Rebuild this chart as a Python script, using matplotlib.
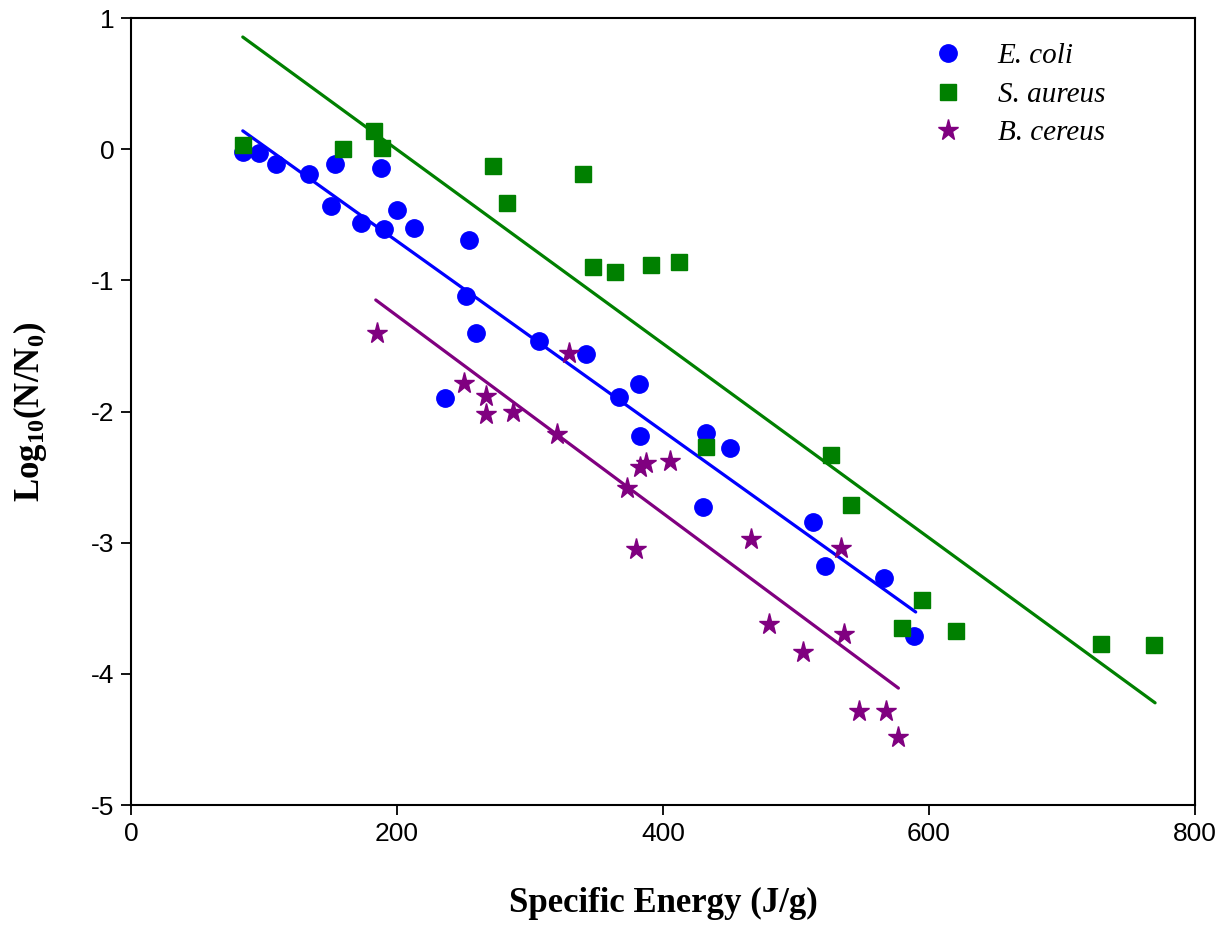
import numpy as np
import matplotlib
matplotlib.use("Agg")
import matplotlib.pyplot as plt

plt.rcParams["axes.unicode_minus"] = False
plt.rcParams["mathtext.fontset"] = "custom"
plt.rcParams["mathtext.rm"] = "Liberation Serif"
plt.rcParams["mathtext.bf"] = "Liberation Serif:bold"

# E. coli
ecoli_x = [84, 96, 109, 134, 153, 150, 173, 190, 188, 200, 213, 254, 252, 259,
           236, 307, 342, 382, 367, 383, 432, 450, 430, 513, 522, 566, 589]
ecoli_y = [-0.02, -0.03, -0.11, -0.19, -0.11, -0.43, -0.56, -0.61, -0.14, -0.46,
           -0.60, -0.69, -1.12, -1.40, -1.90, -1.46, -1.56, -1.79, -1.89, -2.19,
           -2.16, -2.28, -2.73, -2.84, -3.18, -3.27, -3.71]

# S. aureus
saur_x = [84, 159, 183, 189, 272, 283, 340, 347, 364, 391, 412, 432, 526, 541,
          595, 580, 620, 729, 769]
saur_y = [0.03, 0.00, 0.14, 0.01, -0.13, -0.41, -0.19, -0.90, -0.94, -0.88,
          -0.86, -2.27, -2.33, -2.71, -3.44, -3.65, -3.67, -3.77, -3.78]

# B. cereus
bcer_x = [185, 250, 267, 267, 287, 320, 329, 383, 387, 405, 373, 380, 466, 534,
          480, 505, 536, 547, 568, 577]
bcer_y = [-1.40, -1.78, -1.88, -2.02, -2.00, -2.17, -1.55, -2.42, -2.39, -2.38,
          -2.58, -3.05, -2.97, -3.04, -3.62, -3.83, -3.70, -4.28, -4.28, -4.48]

# regression lines: (x start, x end, slope, intercept)
fit_ecoli = (84, 590, -0.00725, 0.749)
fit_saur = (84, 770, -0.0074, 1.477)
fit_bcer = (184, 577, -0.00753, 0.236)

BLUE = "#0000FF"; GREEN = "#008000"; PURPLE = "#800080"

fig = plt.figure(figsize=(12.26, 9.30), dpi=100)
ax = fig.add_axes([0.1069, 0.1344, 0.8678, 0.8462])

ax.plot(ecoli_x, ecoli_y, "o", color=BLUE, ms=12.5, mec=BLUE, label="E. coli", zorder=3)
ax.plot(saur_x, saur_y, "s", color=GREEN, ms=12, mec=GREEN, label="S. aureus", zorder=3)
ax.plot(bcer_x, bcer_y, "*", color=PURPLE, ms=15.5, mec=PURPLE, label="B. cereus", zorder=3)

for (x0, x1, m, b), c in [(fit_ecoli, BLUE), (fit_saur, GREEN), (fit_bcer, PURPLE)]:
    xs = np.array([x0, x1])
    ax.plot(xs, m * xs + b, color=c, lw=2.3, solid_capstyle="round", zorder=2)

ax.set_xlim(0, 800)
ax.set_ylim(-5, 1)
ax.set_xticks([0, 200, 400, 600, 800])
ax.set_yticks([-5, -4, -3, -2, -1, 0, 1])
ax.tick_params(direction="out", length=7, width=1.3, labelsize=19, pad=5,
               top=False, right=False)
for lab in ax.get_xticklabels() + ax.get_yticklabels():
    lab.set_fontfamily("Liberation Sans")
for sp in ax.spines.values():
    sp.set_linewidth(1.5)

ax.set_xlabel("Specific Energy (J/g)", fontsize=25, fontweight="bold",
              fontfamily="Liberation Serif", labelpad=30)
ax.set_ylabel(r"$\mathbf{Log_{10}(N/N_0)}$", fontsize=25, labelpad=30)

leg = ax.legend(loc="upper left", bbox_to_anchor=(0.716, 1.002), frameon=False,
                prop={"family": "Liberation Serif", "style": "italic", "size": 21},
                handlelength=2.0, handletextpad=0.69, labelspacing=0.42,
                borderpad=0.4, numpoints=1)

fig.savefig("out.png", dpi=100)
